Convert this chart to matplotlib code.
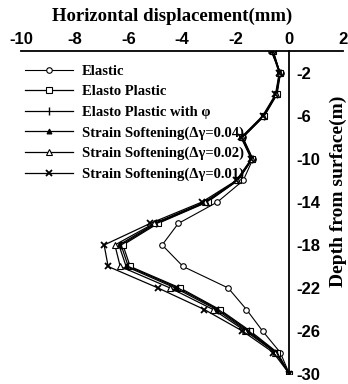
import matplotlib
matplotlib.use("Agg")
import matplotlib.pyplot as plt

# Depth below surface (m) and horizontal displacement (mm) per model
depth = [0, -2, -4, -6, -8, -10, -12, -14, -16, -18, -20, -22, -24, -26, -28, -30]

elastic = [-0.68, -0.33, -0.46, -0.93, -1.73, -1.36, -1.72, -2.68, -4.14, -4.74, -3.96, -2.28, -1.60, -1.00, -0.34, 0.0]
elasto_plastic = [-0.60, -0.35, -0.48, -0.95, -1.75, -1.38, -1.92, -3.05, -4.90, -6.20, -5.93, -4.07, -2.60, -1.46, -0.45, 0.0]
elasto_plastic_phi = [-0.61, -0.35, -0.48, -0.96, -1.76, -1.38, -1.93, -3.08, -4.95, -6.27, -6.00, -4.15, -2.65, -1.52, -0.48, 0.0]
ss_004 = [-0.62, -0.36, -0.49, -0.97, -1.77, -1.39, -1.94, -3.12, -5.00, -6.35, -6.08, -4.25, -2.72, -1.58, -0.50, 0.0]
ss_002 = [-0.63, -0.37, -0.50, -0.98, -1.78, -1.40, -1.96, -3.15, -5.05, -6.50, -6.30, -4.44, -2.84, -1.64, -0.52, 0.0]
ss_001 = [-0.65, -0.38, -0.52, -1.00, -1.80, -1.42, -1.98, -3.25, -5.19, -6.90, -6.75, -4.89, -3.17, -1.75, -0.60, 0.0]

labels = [
    "Elastic",
    "Elasto Plastic",
    "Elasto Plastic with \u03c6",
    "Strain Softening(\u0394\u03b3=0.04)",
    "Strain Softening(\u0394\u03b3=0.02)",
    "Strain Softening(\u0394\u03b3=0.01)",
]

x_ticks = [-10, -8, -6, -4, -2, 0, 2]
y_ticks = [-2, -6, -10, -14, -18, -22, -26, -30]

serif_bold = dict(family="Liberation Serif", weight="bold")
sans_bold = dict(family="Liberation Sans", weight="bold")

fig = plt.figure(figsize=(3.48, 3.84), dpi=100)
ax = fig.add_axes([0.060, 0.026, 0.926, 0.840])

styles = [
    dict(marker="o", mfc="white", ms=4, lw=0.8, color="black", mew=0.8),
    dict(marker="s", mfc="white", ms=3.8, lw=0.9, color="black", mew=0.8),
    dict(marker="|", ms=6, lw=0.9, color="black", mew=1.0),
    dict(marker="^", ms=3.5, lw=0.9, color="black", mew=0.8),
    dict(marker="^", mfc="white", ms=4, lw=0.9, color="black", mew=0.8),
    dict(marker="x", ms=4, lw=0.9, color="black", mew=1.3),
]
series = [elastic, elasto_plastic, elasto_plastic_phi, ss_004, ss_002, ss_001]

for vals, lab, st in zip(series, labels, styles):
    ax.plot(vals, depth, label=lab, **st)

ax.set_xlim(-10, 2)
ax.set_ylim(-30, 0)

# x axis along the surface (top), depth axis through zero displacement
ax.spines["left"].set_visible(False)
ax.spines["bottom"].set_visible(False)
ax.spines["top"].set_linewidth(1.3)
ax.spines["right"].set_position(("data", 0))
ax.spines["right"].set_linewidth(1.3)

ax.xaxis.tick_top()
ax.yaxis.tick_right()
ax.set_xticks(x_ticks)
ax.set_xticklabels([str(v) for v in x_ticks], fontsize=12, **sans_bold)
ax.set_yticks(y_ticks)
ax.set_yticklabels([str(v) for v in y_ticks], fontsize=12, **sans_bold)
ax.tick_params(axis="both", length=0)
ax.tick_params(axis="x", pad=3)
ax.tick_params(axis="y", pad=5)

fig.text(0.495, 0.958, "Horizontal displacement(mm)", ha="center", va="center",
         fontsize=13.5, **serif_bold)
fig.text(0.971, 0.503, "Depth from surface(m)", ha="center", va="center",
         rotation=90, fontsize=14, **serif_bold)

ax.legend(loc="upper left", bbox_to_anchor=(-0.005, 0.977), frameon=False,
          prop=dict(family="Liberation Serif", weight="bold", size=10.5),
          handlelength=3.3, handletextpad=0.6, labelspacing=0.5,
          borderaxespad=0.0)

fig.savefig("out.png", dpi=100)
